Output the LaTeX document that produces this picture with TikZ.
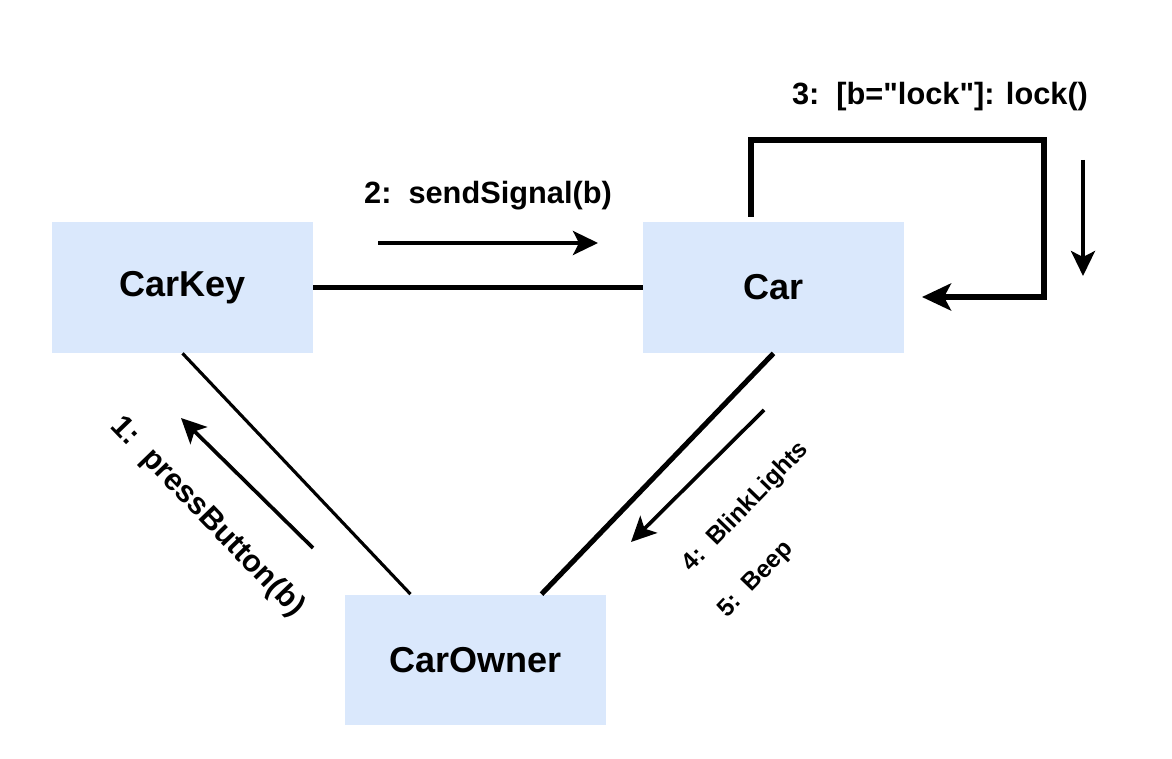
\documentclass[tikz,border=0pt]{standalone}
\usepackage{fontspec}
\setmainfont{Liberation Sans}[Ligatures=TeXOff]
\usetikzlibrary{calc,arrows.meta}
\definecolor{boxfill}{HTML}{DAE8FC}
\begin{document}
\begin{tikzpicture}[x=0.02cm,y=-0.02cm,
  objbox/.style={fill=boxfill,draw=none,minimum width=5.22cm,minimum height=2.62cm,inner sep=0pt,font=\fontsize{20.5}{24}\selectfont\bfseries},
  lbl/.style={font=\fontsize{17.5}{21}\selectfont\bfseries,inner sep=0pt},
  smlbl/.style={font=\fontsize{14}{17}\selectfont\bfseries,inner sep=0pt},
  link/.style={line width=2.3pt},
  msg/.style={line width=2.1pt,-{Stealth[length=0.5cm,width=0.48cm,inset=0.12cm]}},
  every node/.append style={text=black}]
\useasboundingbox (0,0) rectangle (1172,759);
\node[objbox] (carkey) at (182.5,287.5) {CarKey};
\node[objbox] (car) at (773.5,287.5) {Car};
\node[objbox] (carowner) at (475.5,660) {CarOwner};
% associations
\draw[link] (carkey.east) -- (car.west);
\draw[line width=1.8pt] (carkey.south) -- ($(carowner.north)+(-65,0)$);
\draw[line width=2.9pt] (car.south) -- ($(carowner.north)+(66,0)$);
% self loop
\coordinate (ls) at (751,214);
\coordinate (le) at (922,297);
\draw[line width=2.9pt,line cap=rect,-{Stealth[length=0.58cm,width=0.54cm,inset=0.14cm]}] (ls) -- (751,140) -- (1044,140) -- (1044,297) -- (le);
% message arrows
\coordinate (m2s) at (378,243); \coordinate (m2e) at (598,243);
\draw[msg] (m2s) -- (m2e);
\coordinate (m3s) at (1083,160); \coordinate (m3e) at (1083,276);
\draw[msg] (m3s) -- (m3e);
\coordinate (m1s) at (313,548); \coordinate (m1e) at (181,418);
\draw[msg] (m1s) -- (m1e);
\coordinate (m4s) at (764,410); \coordinate (m4e) at (631,542);
\draw[msg] (m4s) -- (m4e);
% labels
\node[lbl] (l2) at (488,196) {2:\ \ sendSignal(b)};
\node[lbl] (l3) at (940,97) {3:\ \ [b="lock"]: lock()};
\node[lbl,rotate=-46] (l1) at (207,517) {1:\ \ pressButton(b)};
\node[smlbl,rotate=46] (l4) at (746,507) {4:\ \ BlinkLights};
\node[smlbl,rotate=46] (l5) at (756,580) {5:\ \ Beep};
\end{tikzpicture}
\end{document}
